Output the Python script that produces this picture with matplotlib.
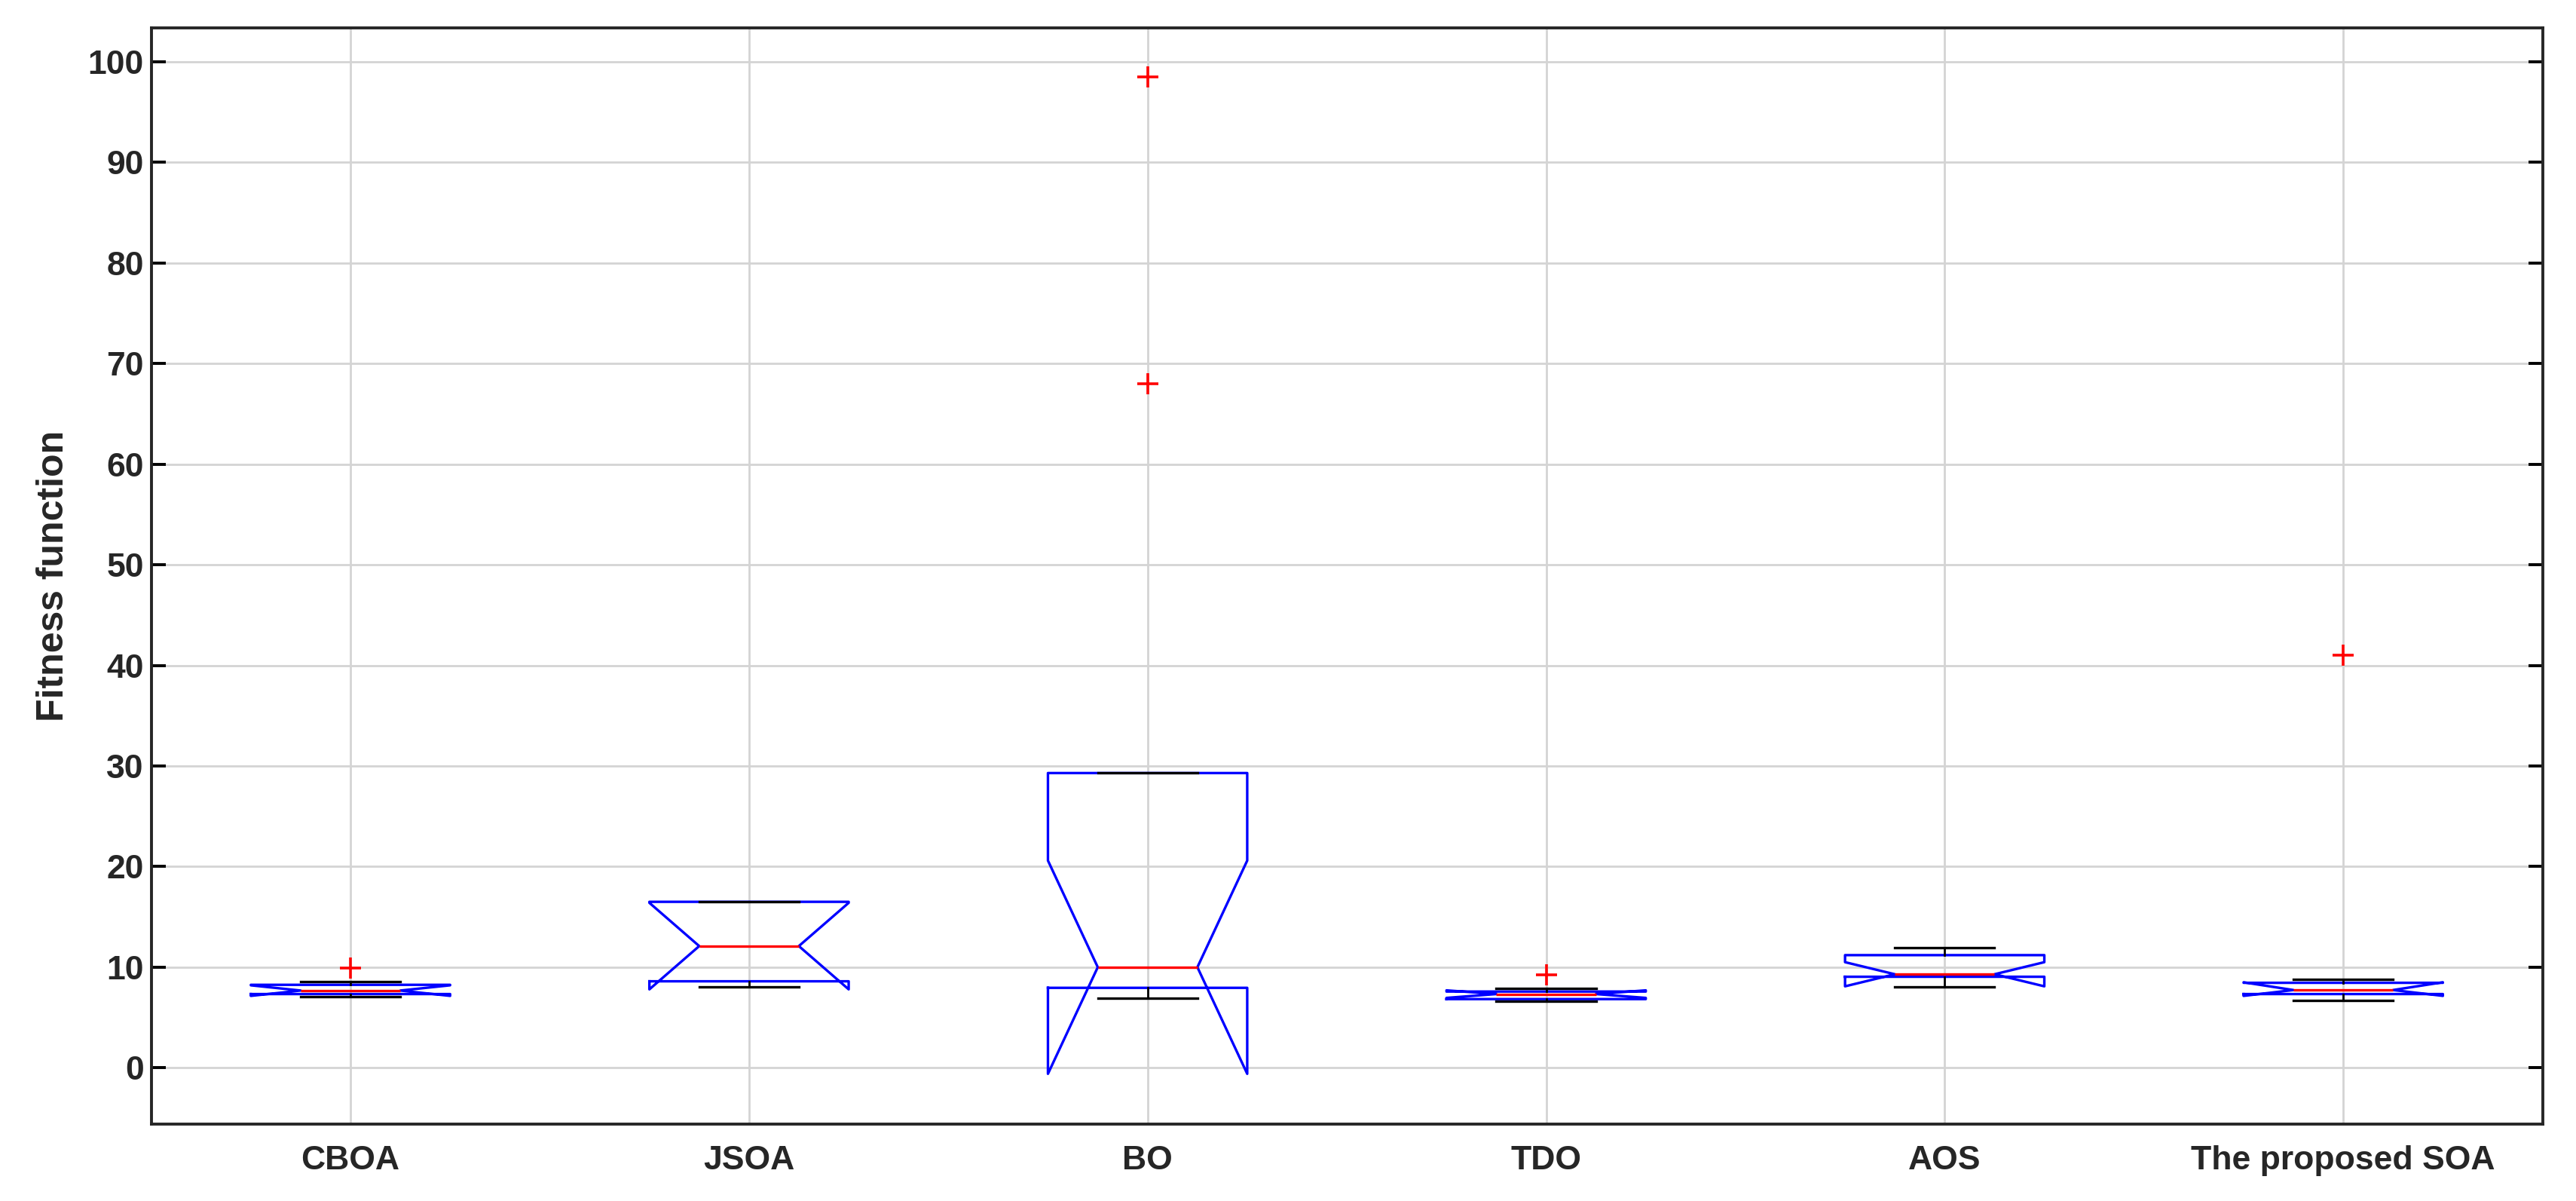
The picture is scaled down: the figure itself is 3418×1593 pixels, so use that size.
import matplotlib
matplotlib.use("Agg")
import matplotlib.pyplot as plt

categories = ["CBOA", "JSOA", "BO", "TDO", "AOS", "The proposed SOA"]
med    = [7.68, 12.1, 10.0, 7.33, 9.3, 7.73]
q1     = [7.33, 8.6, 7.95, 6.83, 9.05, 7.33]
q3     = [8.25, 16.5, 29.3, 7.58, 11.2, 8.45]
whislo = [7.08, 8.05, 6.9, 6.63, 8.05, 6.73]
whishi = [8.58, 16.5, 29.3, 7.9, 11.95, 8.83]
cilo   = [7.15, 7.8, -0.6, 6.95, 8.1, 7.15]
cihi   = [8.2, 16.4, 20.6, 7.7, 10.5, 8.5]
fliers = [[9.9], [], [68.0, 98.5], [9.25], [], [41.0]]
yticks = list(range(0, 101, 10))

plt.rcParams['font.family'] = ['Liberation Sans', 'DejaVu Sans']
plt.rcParams['font.weight'] = 'bold'

fig = plt.figure(figsize=(17.09, 7.965), dpi=200)
ax = fig.add_axes([0.0587, 0.064, 0.9283, 0.913])

stats = []
for i, c in enumerate(categories):
    stats.append(dict(label=c, med=med[i], q1=q1[i], q3=q3[i], whislo=whislo[i],
                      whishi=whishi[i], cilo=cilo[i], cihi=cihi[i], fliers=fliers[i]))

ax.bxp(stats, positions=range(1, len(categories) + 1), widths=0.5, shownotches=True,
       boxprops=dict(color='blue', linewidth=1.2),
       medianprops=dict(color='red', linewidth=1.2),
       whiskerprops=dict(color='black', linewidth=1.0, linestyle='-'),
       capprops=dict(color='black', linewidth=1.2),
       flierprops=dict(marker='+', markeredgecolor='red', markersize=10, markeredgewidth=1.3),
       capwidths=0.25)

ax.set_xlim(0.5, 6.5)
ax.set_ylim(-5.6, 103.4)
ax.set_yticks(yticks)
ax.set_xticks(range(1, len(categories) + 1))
ax.set_xticklabels(categories)
ax.grid(True, color='#d4d4d4', linewidth=1.0)
ax.set_axisbelow(True)
ax.tick_params(direction='in', length=7, width=1.4, right=True, top=False, labelsize=16)
ax.tick_params(axis='x', length=0, pad=10)
for t in ax.get_xticklabels() + ax.get_yticklabels():
    t.set_fontweight('bold')
    t.set_color('#262626')
for s in ax.spines.values():
    s.set_linewidth(1.4)
    s.set_color('#262626')
ax.set_ylabel("Fitness function", fontsize=18, fontweight='bold', color='#262626', labelpad=8)

fig.savefig("out.png", dpi=200)
